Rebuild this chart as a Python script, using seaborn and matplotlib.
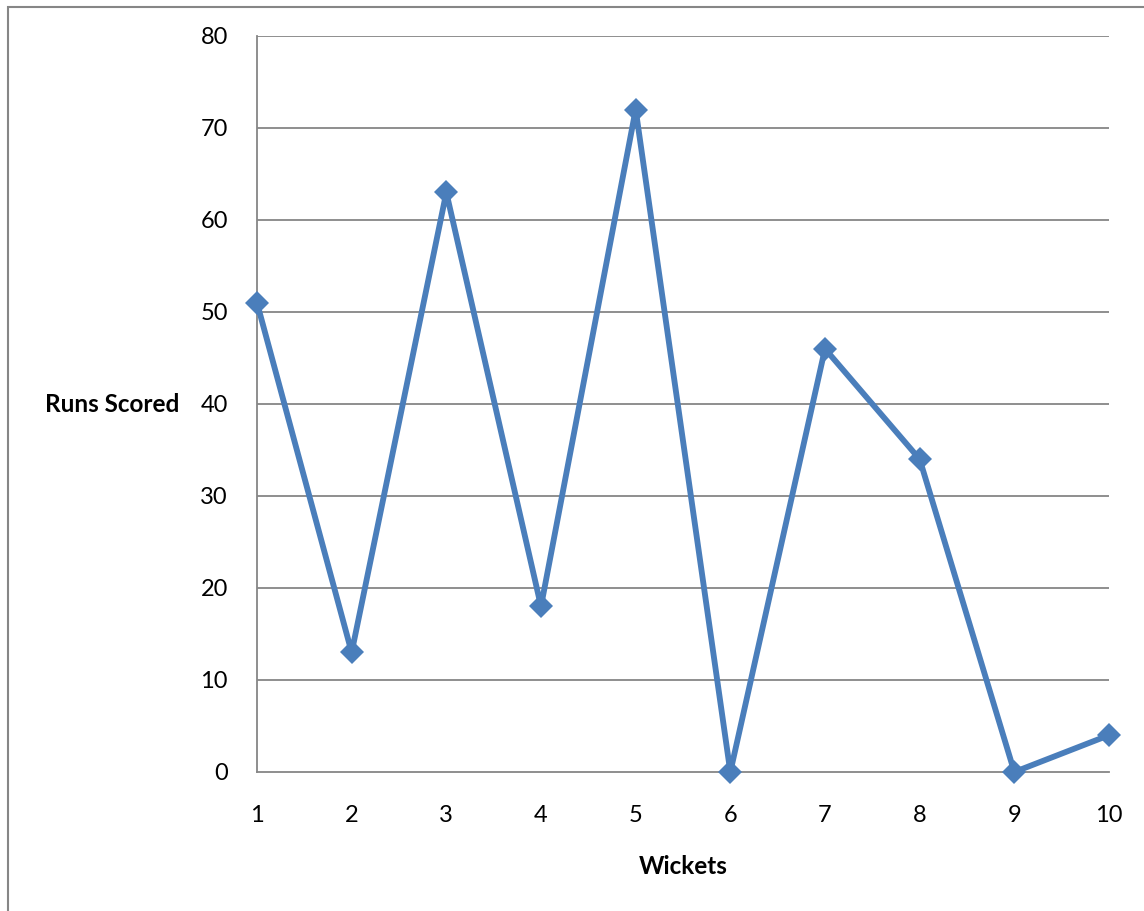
import matplotlib
matplotlib.use("Agg")
import matplotlib.pyplot as plt
from matplotlib.patches import Rectangle
import seaborn as sns
import pandas as pd

wickets = [1, 2, 3, 4, 5, 6, 7, 8, 9, 10]
runs = [51, 13, 63, 18, 72, 0, 46, 34, 0, 4]
y_ticks = [0, 10, 20, 30, 40, 50, 60, 70, 80]

df = pd.DataFrame({"Wickets": wickets, "Runs Scored": runs})

sns.set_theme(style="white")
plt.rcParams["font.family"] = ["Lato", "DejaVu Sans"]

W, H = 1144, 911
fig = plt.figure(figsize=(W / 100, H / 100), dpi=100)
ax = fig.add_axes([257 / W, (H - 772) / H, (1109 - 257) / W, (772 - 36) / H])

grid_c = "#868686"
line_c = "#4A7EBB"

for v in y_ticks[1:]:
    ax.axhline(v, color=grid_c, lw=1.3, zorder=1)

sns.lineplot(data=df, x="Wickets", y="Runs Scored", ax=ax, color=line_c,
             lw=4.2, marker="D", markersize=12, markeredgewidth=0,
             markerfacecolor=line_c, clip_on=False, zorder=3)

ax.set_xlim(1, 10)
ax.set_ylim(0, 80)
ax.set_xticks(wickets)
ax.set_yticks(y_ticks)
ax.set_xticklabels([str(w) for w in wickets])
ax.set_yticklabels([str(v) for v in y_ticks])

for s in ["top", "right"]:
    ax.spines[s].set_visible(False)
for s in ["left", "bottom"]:
    ax.spines[s].set_color(grid_c)
    ax.spines[s].set_linewidth(1.3)

ax.tick_params(axis="both", direction="out", length=8, width=1.3, color=grid_c,
               labelsize=17, labelcolor="black")
ax.tick_params(axis="y", pad=13)
ax.tick_params(axis="x", pad=16)

ax.set_xlabel("")
ax.set_ylabel("")
fig.text(112 / W, 1 - 405 / H, "Runs Scored", ha="center", va="center",
         fontsize=17.5, fontweight="bold", color="black")
fig.text(683 / W, 1 - 867 / H, "Wickets", ha="center", va="center",
         fontsize=17.5, fontweight="bold", color="black")

# chart frame
fig.patches.append(Rectangle((8 / W, -0.05), 1.2, 1 - 7 / H + 0.05,
                             transform=fig.transFigure, fill=False,
                             edgecolor="#868686", lw=1.5))

fig.savefig("out.png", dpi=100)
